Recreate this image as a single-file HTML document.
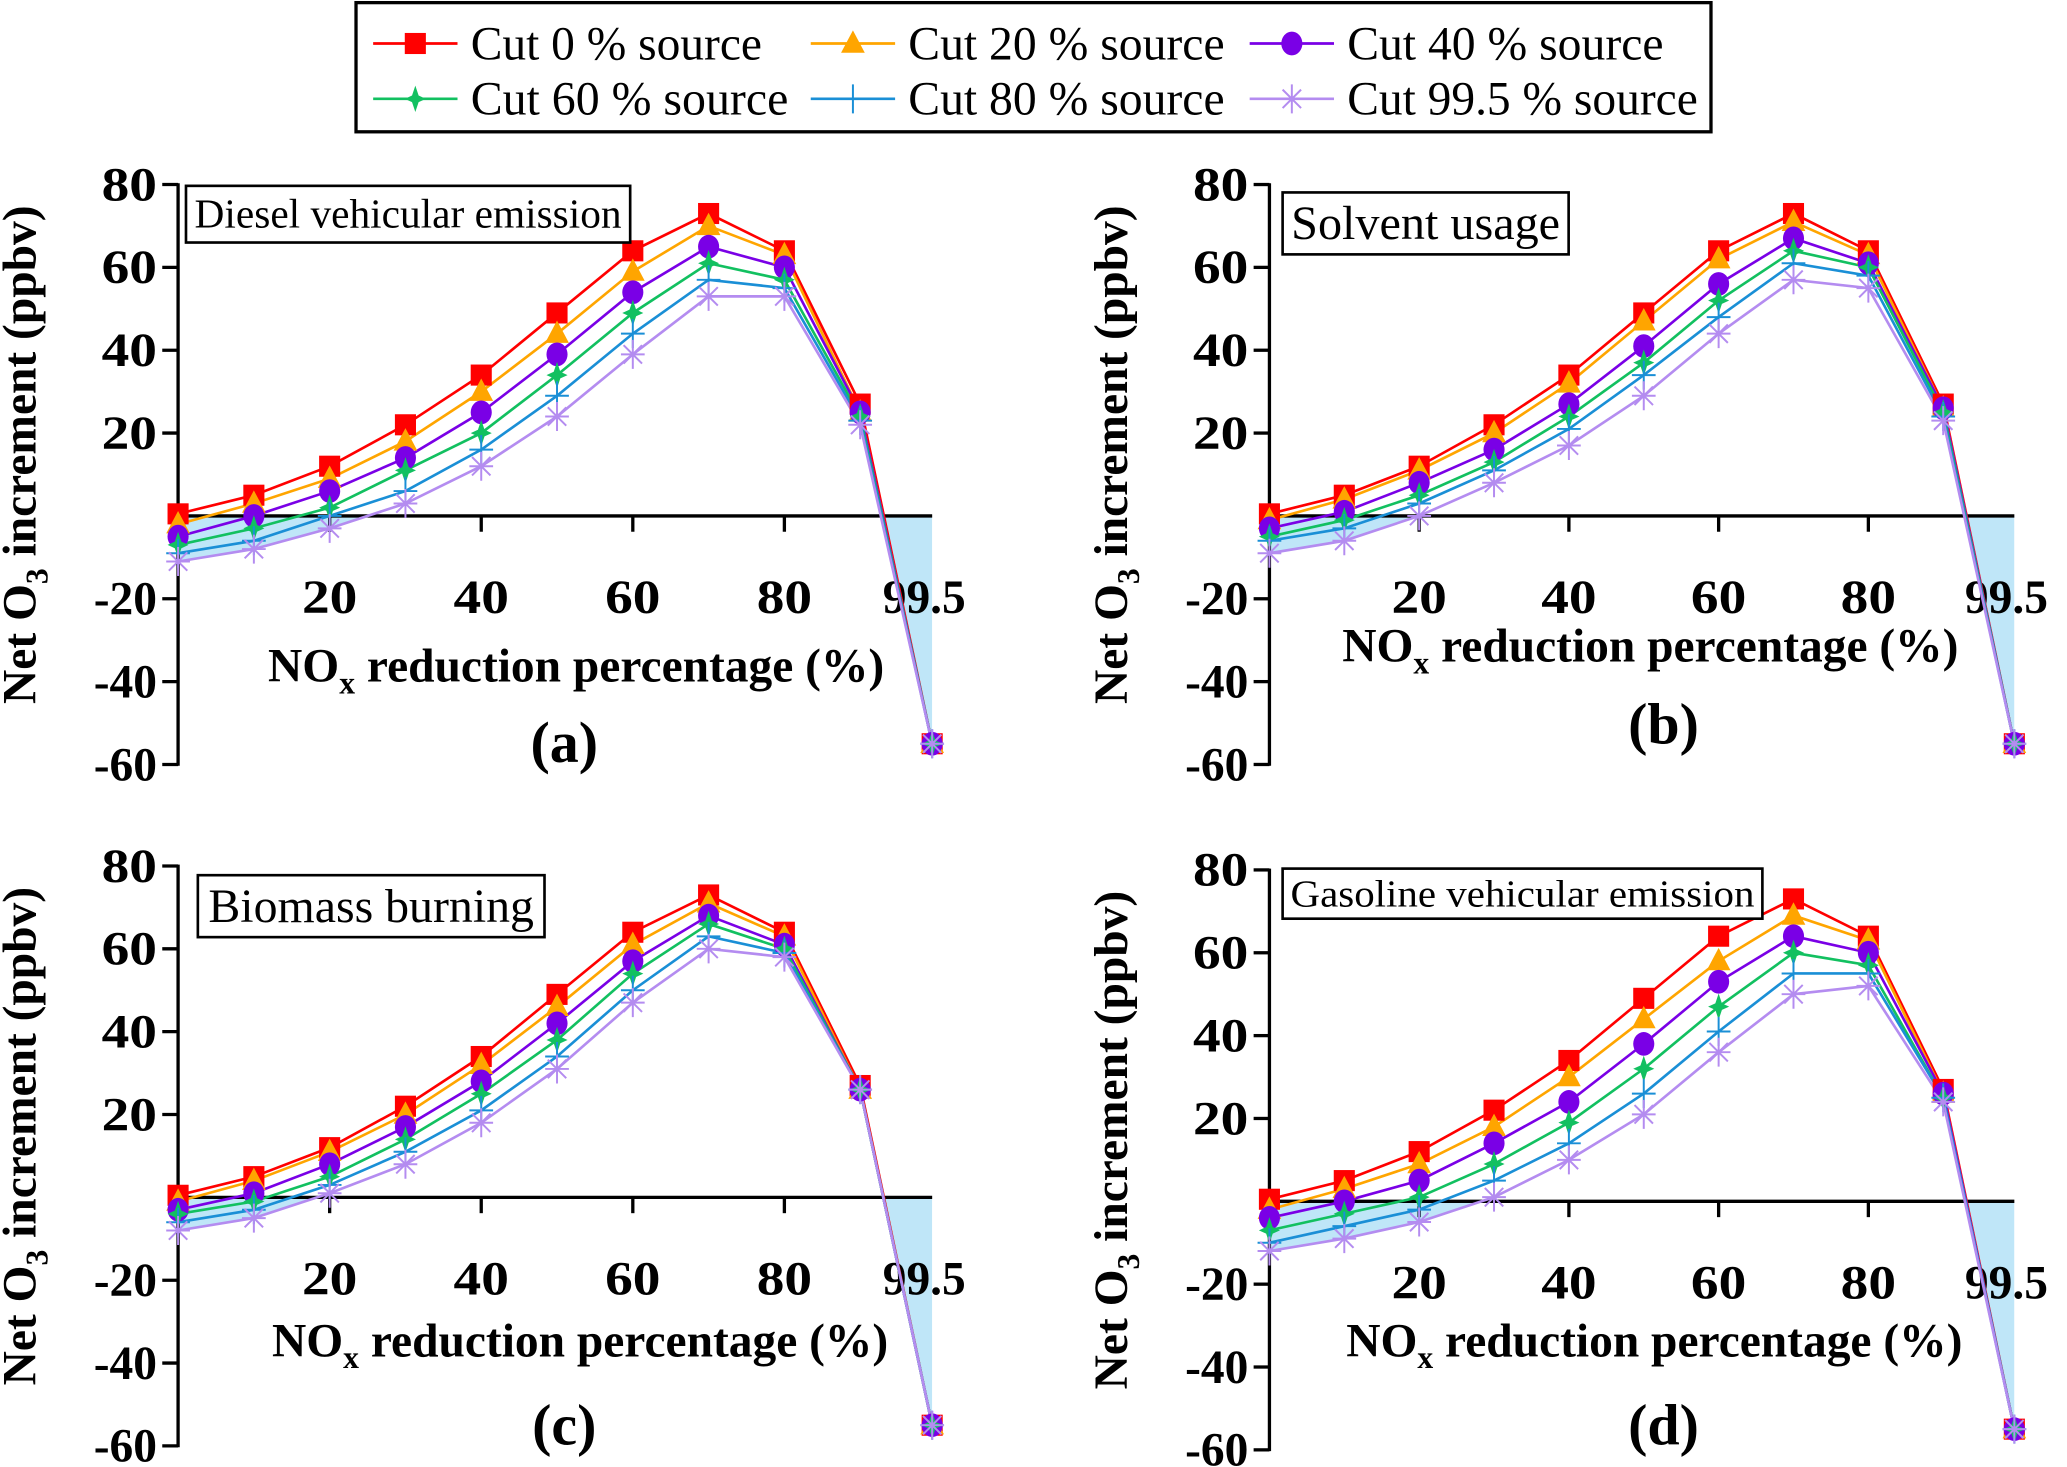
<!DOCTYPE html>
<html><head><meta charset="utf-8"><style>
html,body{margin:0;padding:0;background:#fff}
svg{display:block}
text{font-family:"Liberation Serif",serif}
</style></head><body>
<svg id="fig" width="2067" height="1467" viewBox="0 0 1568 1113" xmlns="http://www.w3.org/2000/svg">
<g id="legend">
<rect x="270" y="2" width="1028" height="98" fill="#fff" stroke="#000" stroke-width="2.5"/>
</g>
</svg>
<script>
const xCats = [0,10,20,30,40,50,60,70,80,90,99.5];
const yTicks = [80,60,40,20,-20,-40,-60];
const xTicks = [20,40,60,80];
const seriesNames = ["Cut 0 % source","Cut 20 % source","Cut 40 % source","Cut 60 % source","Cut 80 % source","Cut 99.5 % source"];
const redVals = [0.5,5,12,22,34,49,64,73,64,27,-55];
const aOrange = [-2,3,9,18,30,44,59,70,63,25,-55];
const aPurple = [-5,0,6,14,25,39,54,65,60,25,-55];
const aGreen = [-7,-3,2,11,20,34,49,61,57,24,-55];
const aBlue = [-9,-6,0,6,16,29,44,57,55,23,-55];
const aLilac = [-11,-8,-3,3,12,24,39,53,53,22,-55];
const bOrange = [-1,4,11,20,32,47,62,71,63,26,-55];
const bPurple = [-3,1,8,16,27,41,56,67,61,26,-55];
const bGreen = [-5,-1,5,13,24,37,52,64,60,25,-55];
const bBlue = [-6,-3,3,11,21,34,48,61,58,24,-55];
const bLilac = [-9,-6,0,8,17,29,44,57,55,23,-55];
const cOrange = [-1,4,11,20,32,46,61,71,63,26,-55];
const cPurple = [-3,1,8,17,28,42,57,68,61,26,-55];
const cGreen = [-4,-1,5,14,25,38,54,66,60,26,-55];
const cBlue = [-6,-3,3,11,21,34,50,63,59,26,-55];
const cLilac = [-8,-5,1,8,18,31,47,60,58,26,-55];
const dOrange = [-2,3,9,18,30,44,58,69,63,26,-55];
const dPurple = [-4,0,5,14,24,38,53,64,60,26,-55];
const dGreen = [-7,-3,1,9,19,32,47,60,57,25,-55];
const dBlue = [-10,-6,-2,5,14,26,41,55,55,25,-55];
const dLilac = [-12,-9,-5,1,10,21,36,50,52,24,-55];
const panelTitles = ["Diesel vehicular emission","Solvent usage","Biomass burning","Gasoline vehicular emission"];
const panelLetters = ["(a)","(b)","(c)","(d)"];

const colors = ["#ff0000","#ffa500","#7a00e6","#12c060","#1a8fd6","#b48cf0"];
const markers = ["square","triangle","circle","star","plus","asterisk"];
const legendWidths = [221,240,240,241,240,266];
const NS = "http://www.w3.org/2000/svg";
const svg = document.getElementById("fig");
function el(tag, attrs, parent){const e=document.createElementNS(NS,tag);for(const k in attrs)e.setAttribute(k,attrs[k]);(parent||svg).appendChild(e);return e;}

function marker(type, x, y, c, g){
  let m;
  if(type==="square") m=el("rect",{x:x-8,y:y-8,width:16,height:16,fill:c},g);
  else if(type==="triangle") m=el("polygon",{points:`${x},${y-10} ${x-9},${y+7} ${x+9},${y+7}`,fill:c},g);
  else if(type==="circle") m=el("ellipse",{cx:x,cy:y,rx:8,ry:9,fill:c},g);
  else if(type==="star") m=el("polygon",{points:`${x},${y-10} ${x+2.5},${y-2.5} ${x+8},${y} ${x+2.5},${y+2.5} ${x},${y+10} ${x-2.5},${y+2.5} ${x-8},${y} ${x-2.5},${y-2.5}`,fill:c},g);
  else if(type==="plus") m=el("path",{d:`M${x-9},${y}H${x+9}M${x},${y-11}V${y+11}`,stroke:c,"stroke-width":1.5,fill:"none"},g);
  else m=el("path",{d:`M${x-9},${y}H${x+9}M${x},${y-11}V${y+11}M${x-7},${y-7}L${x+7},${y+7}M${x+7},${y-7}L${x-7},${y+7}`,stroke:c,"stroke-width":1.5,fill:"none"},g);
  return m;
}

const lg = document.getElementById("legend");
const legX=[283,615,948], legY=[33,75];
seriesNames.forEach((n,i)=>{
  const x=legX[i%3], y=legY[Math.floor(i/3)];
  const g=el("g",{},lg);
  
  
  el("line",{x1:x,y1:y,x2:x+64,y2:y,stroke:colors[i],"stroke-width":2},g);
  marker(markers[i],x+32,y,colors[i],g);
  const t=el("text",{x:x+74,y:y+12,"font-size":36,textLength:legendWidths[i],lengthAdjust:"spacingAndGlyphs"},g); t.textContent=n;
});

const panels=[
 {ax:135,top:140,bot:580,xs:5.75,tb:[141,141,337,43],tf:31,tw:324,xt:[437,505],lt:[428,563],xl:453,
  data:[redVals,aOrange,aPurple,aGreen,aBlue,aLilac]},
 {ax:963,top:140,bot:580,xs:5.68,tb:[973,146,217,47],tf:36,tw:204,xt:[1252,490],lt:[1262,549],xl:453,
  data:[redVals,bOrange,bPurple,bGreen,bBlue,bLilac]},
 {ax:135,top:657,bot:1097,xs:5.75,tb:[150,664,263,47],tf:36,tw:247,xt:[440,1017],lt:[428,1081],xl:970,
  data:[redVals,cOrange,cPurple,cGreen,cBlue,cLilac]},
 {ax:963,top:660,bot:1100,xs:5.68,tb:[973,659,364,38],tf:29,tw:352,xt:[1255,1017],lt:[1262,1081],xl:973,
  data:[redVals,dOrange,dPurple,dGreen,dBlue,dLilac]}
];
panels.forEach((p,pi)=>{
  const g=el("g",{});
  
  
  const ys=(p.bot-p.top)/140;
  const Y=v=>p.top+(80-v)*ys;
  const X=v=>p.ax+v*p.xs;
  const low=p.data[5];
  const cid="clip"+pi;
  const cp=el("clipPath",{id:cid},g);
  el("rect",{x:p.ax,y:Y(0),width:X(99.5)-p.ax,height:Y(-60)-Y(0)},cp);
  let pts=xCats.map((c,i)=>X(c)+","+Y(low[i])).join(" ");
  pts+=` ${X(99.5)},${Y(0)} ${X(0)},${Y(0)}`;
  const fl=el("polygon",{points:pts,fill:"#bfe6f8","clip-path":`url(#${cid})`},g);
  
  
  const ya=el("line",{x1:p.ax,y1:p.top-1,x2:p.ax,y2:p.bot+1,stroke:"#000","stroke-width":2.5},g);
  
  
  yTicks.forEach(t=>{
    el("line",{x1:p.ax-12,y1:Y(t),x2:p.ax,y2:Y(t),stroke:"#000","stroke-width":2.5},g);
    const s=String(t);
    const tx=el("text",{x:p.ax-16,y:Y(t)+12,"font-size":36,"font-weight":"bold","text-anchor":"end",textLength:s.length>2?48:42,lengthAdjust:"spacingAndGlyphs"},g);
    tx.textContent=s;
    
    
  });
  const xa=el("line",{x1:p.ax,y1:Y(0),x2:X(99.5),y2:Y(0),stroke:"#000","stroke-width":2.5},g);
  
  
  xTicks.forEach(t=>{
    el("line",{x1:X(t),y1:Y(0),x2:X(t),y2:Y(0)+12,stroke:"#000","stroke-width":2.5},g);
    const tx=el("text",{x:X(t),y:p.xl+12,"font-size":36,"font-weight":"bold","text-anchor":"middle",textLength:42,lengthAdjust:"spacingAndGlyphs"},g);
    tx.textContent=t;
    
    
  });
  const t99=el("text",{x:X(99.5)-6,y:p.xl+12,"font-size":36,"font-weight":"bold","text-anchor":"middle",textLength:63,lengthAdjust:"spacingAndGlyphs"},g);
  t99.textContent="99.5";
  
  
  p.data.forEach((vals,si)=>{
    const sg=el("g",{},g);
    
    
    el("polyline",{points:xCats.map((c,i)=>X(c)+","+Y(vals[i])).join(" "),fill:"none",stroke:colors[si],"stroke-width":2},sg);
  });
  p.data.forEach((vals,si)=>{
    xCats.forEach((c,i)=>{
      const m=marker(markers[si],X(c),Y(vals[i]),colors[si],g);
      
      
    });
  });
  const [bx,by,bw,bh]=p.tb;
  const tg=el("g",{},g);
  
  
  el("rect",{x:bx,y:by,width:bw,height:bh,fill:"#fff",stroke:"#000","stroke-width":2},tg);
  const tt=el("text",{x:bx+bw/2,y:by+bh/2+p.tf*0.33,"font-size":p.tf,"text-anchor":"middle",textLength:p.tw,lengthAdjust:"spacingAndGlyphs"},tg);
  tt.textContent=panelTitles[pi];
  const yc=(p.top+p.bot)/2-15;
  const yt=el("text",{x:0,y:0,"font-size":36,"font-weight":"bold","text-anchor":"middle",transform:`translate(${p.ax-108},${yc}) rotate(-90)`},g);
  
  
  yt.innerHTML='Net O<tspan font-size="24" dy="9">3</tspan><tspan dy="-9"> increment (ppbv)</tspan>';
  const xt=el("text",{x:p.xt[0],y:p.xt[1]+12,"font-size":36,"font-weight":"bold","text-anchor":"middle"},g);
  
  
  xt.innerHTML='NO<tspan font-size="24" dy="9">x</tspan><tspan dy="-9"> reduction percentage (%)</tspan>';
  const lt=el("text",{x:p.lt[0],y:p.lt[1]+15,"font-size":44,"font-weight":"bold","text-anchor":"middle"},g);
  lt.textContent=panelLetters[pi];
  
  
});
</script>
</body></html>
